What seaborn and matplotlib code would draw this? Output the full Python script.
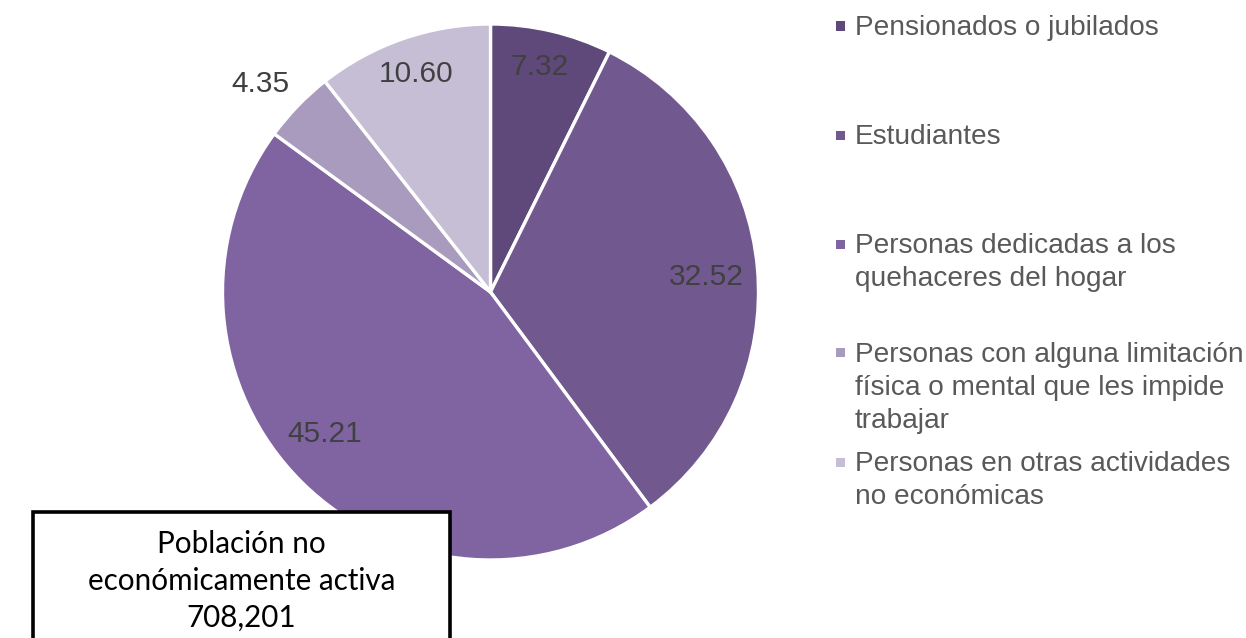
import numpy as np
import matplotlib
matplotlib.use("Agg")
import matplotlib.pyplot as plt
from matplotlib.patches import Rectangle
import seaborn as sns

# Población no económicamente activa por tipo de actividad (%)
categories = [
    "Pensionados o jubilados",
    "Estudiantes",
    "Personas dedicadas a los\nquehaceres del hogar",
    "Personas con alguna limitación\nfísica o mental que les impide\ntrabajar",
    "Personas en otras actividades\nno económicas",
]
shares = [7.32, 32.52, 45.21, 4.35, 10.60]
value_labels = ["7.32", "32.52", "45.21", "4.35", "10.60"]
total_label = "Población no\neconómicamente activa\n708,201"

colors = ["#5F497A", "#71588F", "#8064A2", "#A99BBD", "#C6BED5"]

# label placement: radius (fraction of pie radius) and small angular nudge (deg)
label_radius = [0.86, 0.806, 0.814, 1.159, 0.86]
label_nudge = [0.8, -1.1, -4.6, 1.9, -0.2]

sns.set_theme(style="white", palette=sns.color_palette(colors))
plt.rcParams["font.family"] = ["Liberation Sans", "DejaVu Sans"]

W, H = 1246, 638
fig = plt.figure(figsize=(W / 100, H / 100), dpi=100)
fig.patch.set_facecolor("white")

# pie axes: centre (490.5, 292) px, radius 268 px
cx, cy, R = 490.5, 292, 268
ax = fig.add_axes([(cx - R) / W, (H - cy - R) / H, 2 * R / W, 2 * R / H])

wedges, _ = ax.pie(
    shares,
    colors=colors,
    startangle=90,
    counterclock=False,
    radius=1,
    wedgeprops=dict(edgecolor="white", linewidth=2.4),
)
ax.set_xlim(-1, 1)
ax.set_ylim(-1, 1)
ax.set_aspect("equal")
ax.axis("off")

# value labels
cum = np.concatenate([[0], np.cumsum(shares)])
total = sum(shares)
for i, lab in enumerate(value_labels):
    mid = 90 - 360 * (cum[i] + shares[i] / 2) / total + label_nudge[i]
    t = np.deg2rad(mid)
    r = label_radius[i]
    ax.text(r * np.cos(t), r * np.sin(t), lab, ha="center", va="center",
            fontsize=21.5, color="#404040", clip_on=False)

# legend
leg_x_marker = 840.5
leg_x_text = 855
leg_y0, leg_step = 26, 109
for i, (name, col) in enumerate(zip(categories, colors)):
    y = leg_y0 + i * leg_step
    s = 9
    fig.add_artist(Rectangle(((leg_x_marker - s / 2) / W, 1 - (y + s / 2) / H),
                             s / W, s / H, transform=fig.transFigure,
                             facecolor=col, edgecolor="none"))
    fig.text(leg_x_text / W, 1 - (y - 11) / H, name, ha="left", va="top",
             fontsize=20.2, color="#595959", linespacing=1.36)

# total box
bx0, bx1, by0 = 33, 450, 512
fig.add_artist(Rectangle((bx0 / W, -0.2), (bx1 - bx0) / W, 1 - by0 / H + 0.2,
                         transform=fig.transFigure, facecolor="white",
                         edgecolor="black", linewidth=2.6, zorder=5))
fig.text((bx0 + bx1) / 2 / W, 1 - 581 / H, total_label, ha="center", va="center",
         fontsize=21.3, color="black", family=["Lato", "DejaVu Sans"],
         linespacing=1.38, zorder=6)

fig.savefig("out.png", dpi=100, facecolor="white")
